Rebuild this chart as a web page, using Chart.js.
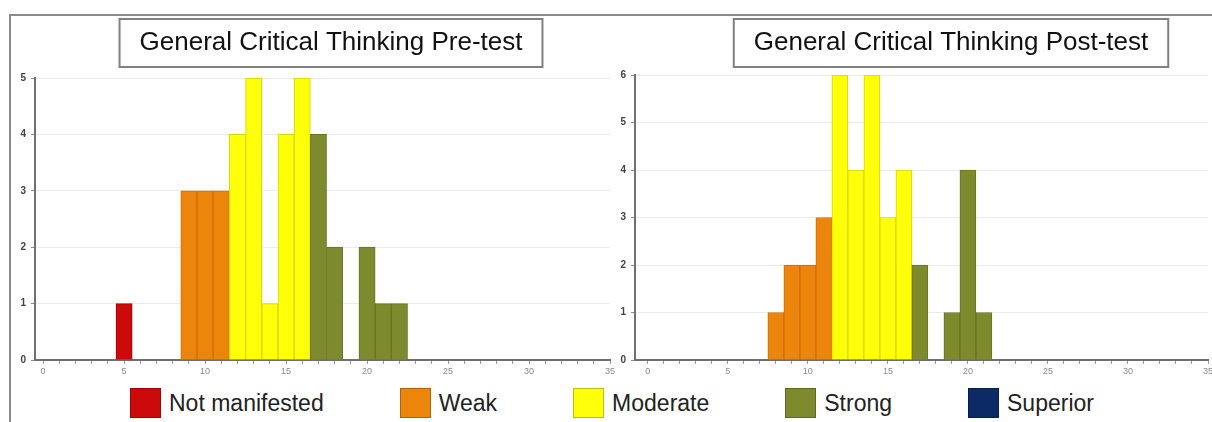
<!DOCTYPE html>
<html>
<head>
<meta charset="utf-8">
<script src="https://cdn.jsdelivr.net/npm/chart.js@4.4.0/dist/chart.umd.min.js"></script>
<style>
  html, body { margin: 0; padding: 0; background: #fff; width: 1212px; height: 422px; overflow: hidden; position: relative; }
  #frame { position: absolute; left: 9px; top: 14px; width: 1300px; height: 500px; border-top: 2px solid #8a8a8a; border-left: 2px solid #8a8a8a; }
  canvas { position: absolute; top: 0; }
  #pre { left: 10px; }
  #post { left: 610px; }
  #legend { position: absolute; left: 130px; top: 388px; display: flex; align-items: center;
    font-family: 'Liberation Sans', Arial, sans-serif; font-size: 23px; color: #222; white-space: nowrap; }
  .item { display: flex; align-items: center; margin-right: 76px; }
  .swatch { width: 31px; height: 30px; margin-right: 8px; box-sizing: border-box; border: 1px solid rgba(0,0,0,0.25); }
</style>
</head>
<body>
<div id="frame"></div>
<canvas id="pre" width="642" height="385"></canvas>
<canvas id="post" width="682" height="385"></canvas>
<div id="legend"></div>
<script>
// performance levels and the lowest score in each
const levels = ['Not manifested', 'Weak', 'Moderate', 'Strong', 'Superior'];
const levelMin = [0, 8, 12, 17, 23];
const levelColors = ['#cc0a0a', '#ec850c', '#ffff0a', '#7e8a2e', '#0b2a66'];
const levelBorders = ['#a80000', '#cf6f00', '#d6d600', '#68741f', '#061a48'];

// score -> number of students
const preScores = [5, 9, 10, 11, 12, 13, 14, 15, 16, 17, 18, 20, 21, 22];
const preCounts = [1, 3, 3, 3, 4, 5, 1, 4, 5, 4, 2, 2, 1, 1];
const postScores = [8, 9, 10, 11, 12, 13, 14, 15, 16, 17, 19, 20, 21];
const postCounts = [1, 2, 2, 3, 6, 4, 6, 3, 4, 2, 1, 4, 1];

const FONT = "'Liberation Sans', Arial, sans-serif";
Chart.defaults.font.family = FONT;

const levelOf = score => {
	let k = 0;
	levelMin.forEach((m, i) => { if (score >= m) k = i; });
	return k;
};

// title centred on the whole canvas, with a grey box round it
const boxedTitle = {
	id: 'boxedTitle',
	afterLayout: chart => {
		chart.titleBlock.left = 0;
		chart.titleBlock.right = chart.width;
	},
	afterDraw: chart => {
		const t = chart.titleBlock;
		const o = chart.options.plugins.title;
		const ctx = chart.ctx;
		ctx.save();
		ctx.font = `${o.font.size}px ${FONT}`;
		const w = ctx.measureText(o.text).width + 40;
		const h = 48;
		const cx = (t.left + t.right) / 2;
		const cy = t.top + o.padding.top + o.font.size * 1.2 / 2;
		ctx.strokeStyle = '#808080';
		ctx.lineWidth = 2;
		ctx.strokeRect(cx - w / 2, cy - h / 2, w, h);
		ctx.restore();
	}
};

const makeChart = (id, title, scores, counts, xMin, yMax, titleBottom, padRight) => {
	new Chart(document.getElementById(id), {
		type: 'bar',
		data: {
			datasets: [{
				data: scores.map((s, i) => ({x: s, y: counts[i]})),
				backgroundColor: scores.map(s => levelColors[levelOf(s)]),
				borderColor: scores.map(s => levelBorders[levelOf(s)]),
				borderWidth: 1,
				barPercentage: 1,
				categoryPercentage: 1,
			}]
		},
		plugins: [boxedTitle],
		options: {
			responsive: false,
			animation: false,
			layout: {padding: {left: 0, right: padRight, top: 0, bottom: 0}},
			plugins: {
				legend: {display: false},
				tooltip: {enabled: false},
				title: {
					display: true,
					text: title,
					color: '#111',
					font: {size: 26, weight: 'normal'},
					padding: {top: 27.4, bottom: titleBottom},
				},
			},
			scales: {
				x: {
					type: 'linear',
					min: xMin,
					max: 35,
					offset: false,
					grid: {offset: false, drawOnChartArea: false, drawTicks: true, tickLength: 4, tickColor: '#9a9a9a'},
					border: {color: '#707070', width: 2},
					ticks: {
						stepSize: 1,
						autoSkip: false,
						includeBounds: false,
						maxRotation: 0,
						padding: 2,
						color: '#8a8a8a',
						font: {size: 9},
						callback: v => v % 5 === 0 ? v : '',
					},
					afterFit: s => { s.height = 25; },
				},
				y: {
					min: 0,
					max: yMax,
					grid: {color: '#ececec', tickColor: '#8a8a8a', tickLength: 4},
					border: {color: '#707070', width: 2},
					ticks: {stepSize: 1, padding: 5, color: '#444', font: {size: 10, weight: 'bold'}},
					afterFit: s => { s.width = 25; },
				}
			}
		}
	});
};

makeChart('pre', 'General Critical Thinking Pre-test', preScores, preCounts, -0.5, 5, 19.4, 42);
makeChart('post', 'General Critical Thinking Post-test', postScores, postCounts, -0.8, 6, 16.4, 84);

// shared legend under both charts
const legend = document.getElementById('legend');
levels.forEach((name, i) => {
	const item = document.createElement('div');
	item.className = 'item';
	const sw = document.createElement('span');
	sw.className = 'swatch';
	sw.style.background = levelColors[i];
	const label = document.createElement('span');
	label.textContent = name;
	item.appendChild(sw);
	item.appendChild(label);
	legend.appendChild(item);
});
</script>
</body>
</html>
